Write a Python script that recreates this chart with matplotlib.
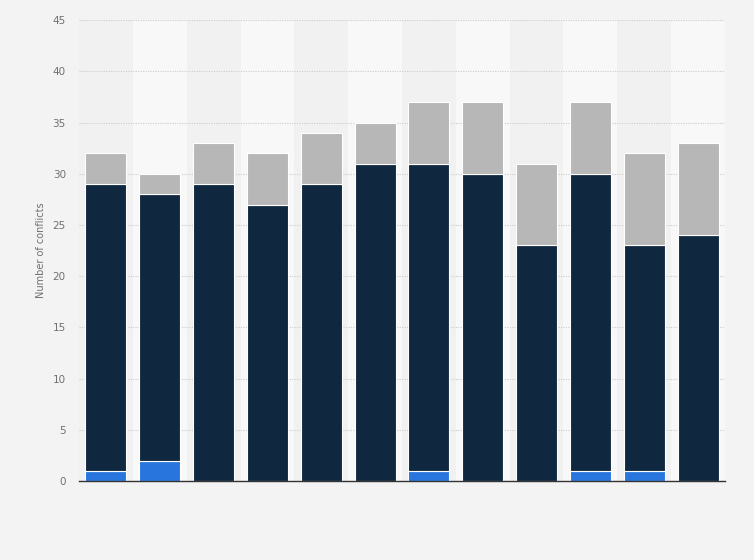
import matplotlib.pyplot as plt
import numpy as np

# values (no category labels shown in the chart)
blue_part = [1, 2, 0, 0, 0, 0, 1, 0, 0, 1, 1, 0]
dark_part = [28, 26, 29, 27, 29, 31, 30, 30, 23, 29, 22, 24]
grey_part = [3, 2, 4, 5, 5, 4, 6, 7, 8, 7, 9, 9]
y_ticks = [0, 5, 10, 15, 20, 25, 30, 35, 40, 45]

x = np.arange(len(dark_part))
blue_part = np.array(blue_part)
dark_part = np.array(dark_part)
grey_part = np.array(grey_part)

fig = plt.figure(figsize=(7.54, 5.6), dpi=100, facecolor='#f3f3f3')
ax = fig.add_axes([0.1048, 0.141, 0.8567, 0.823])
ax.set_facecolor('#f3f3f3')

# alternating column shading
for i in x:
    ax.axvspan(i - 0.5, i + 0.5, color='#f1f1f1' if i % 2 == 0 else '#f8f8f8',
               lw=0, zorder=0)

w = 0.76
ax.bar(x, blue_part, w, color='#2876dd', edgecolor='white', lw=0.8, zorder=3)
ax.bar(x, dark_part, w, bottom=blue_part, color='#0f283f', edgecolor='white', lw=0.8, zorder=3)
ax.bar(x, grey_part, w, bottom=blue_part + dark_part, color='#b7b7b7', edgecolor='white', lw=0.8, zorder=3)

ax.set_xlim(-0.5, len(x) - 0.5)
ax.set_ylim(0, 45)
ax.set_yticks(y_ticks)
ax.set_xticks([])
ax.yaxis.grid(True, color='#cccccc', linestyle=(0, (1, 1.2)), lw=0.8, zorder=1)
ax.tick_params(axis='y', length=0, labelsize=7.5, labelcolor='#707070', pad=9.5)
for s in ['top', 'right', 'left']:
    ax.spines[s].set_visible(False)
ax.spines['bottom'].set_color('#333333')
ax.spines['bottom'].set_linewidth(1.0)
ax.spines['bottom'].set_zorder(4)
ax.set_ylabel('Number of conflicts', fontsize=7, color='#707070', labelpad=5)

fig.savefig('out.png', dpi=100, facecolor=fig.get_facecolor())
